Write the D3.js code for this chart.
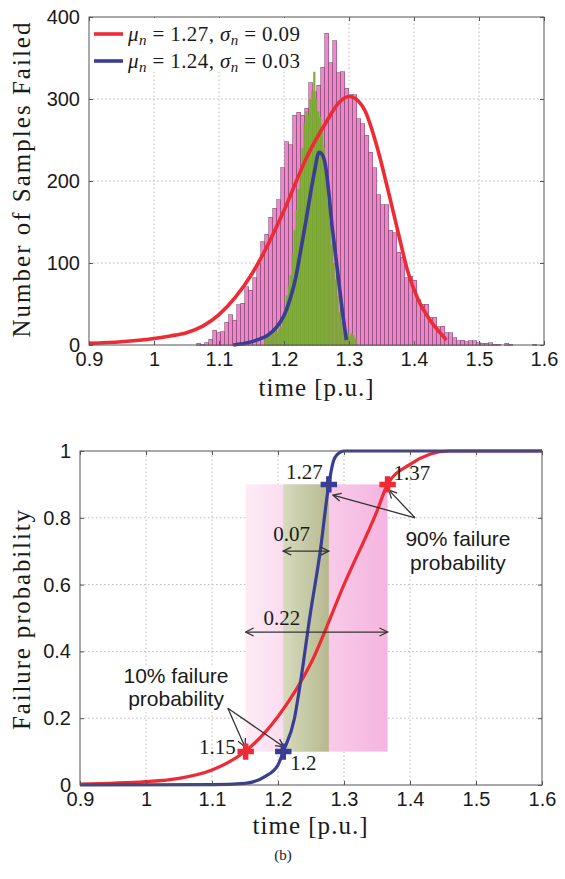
<!DOCTYPE html>
<html>
<head>
<meta charset="utf-8">
<title>Failure time distribution</title>
<style>
  body { margin: 0; background: #fff; }
  svg text { font-family: "Liberation Sans", Arial, sans-serif; fill: #1a1a1a; }
  svg text.serif { font-family: "Liberation Serif", "Times New Roman", serif; }
</style>
</head>
<body>
<script src="https://cdn.jsdelivr.net/npm/d3@7"></script>
<script>
// ---- data ----
var xTicks = [0.9, 1, 1.1, 1.2, 1.3, 1.4, 1.5, 1.6];
var yTicksTop = [0, 100, 200, 300, 400];
var yTicksBottom = [0, 0.2, 0.4, 0.6, 0.8, 1];

// histogram of all samples (pink), bins start at binStart
var binStart = 1.066, binWidth = 0.00615;
var pinkCounts = [2,1,3,7,18,15,16,28,37,30,49,51,71,67,82,100,126,135,156,167,177,
  216,248,244,280,284,280,289,320,309,317,339,380,344,371,332,333,313,305,305,276,270,
  256,235,216,183,171,171,140,137,113,107,82,84,79,55,50,50,33,34,22,23,15,15,9,5,6,4,
  5,5,3,2,2,3,1,1,0,2,1,0,0,0,0,0,1];

// histogram of the narrow case (green)
var greenStart = 1.170, greenWidth = 0.003;
var greenCounts = [8,12,15,14,16,18,15,20,22,30,45,60,72,85,110,140,165,190,215,240,
  270,285,280,300,310,333,300,285,278,260,240,205,175,150,122,100,80,60,40,28,18,14,15,
  12,14,12,8];

// fitted densities [time, count]
var redPdf = [[0.90,2],[0.95,4],[1.00,8],[1.025,11],[1.05,15],[1.075,23],[1.10,37],
  [1.125,58],[1.15,86],[1.175,122],[1.20,164],[1.235,229],[1.265,272],[1.285,296],
  [1.30,303],[1.315,297],[1.325,285],[1.343,242],[1.36,189],[1.376,136],[1.391,88],
  [1.406,56],[1.425,30],[1.44,15],[1.45,6]];
var bluePdf = [[1.122,0],[1.14,2],[1.158,6],[1.175,12],[1.189,22],[1.20,36],[1.209,55],
  [1.218,82],[1.225,112],[1.233,148],[1.24,181],[1.247,212],[1.254,235],[1.259,232],
  [1.264,218],[1.269,185],[1.273,152],[1.279,112],[1.284,79],[1.29,40],[1.296,6]];

// cumulative failure probability [time, probability]
var redCdf = [[0.9,0.003],[1.0,0.01],[1.05,0.02],[1.1,0.045],[1.15,0.1],[1.2,0.205],
  [1.25,0.365],[1.3,0.6],[1.35,0.82],[1.366,0.9],[1.4,0.96],[1.43,0.99],[1.46,1.0],[1.6,1.0]];
var blueCdf = [[0.9,0],[1.1,0.001],[1.15,0.005],[1.18,0.025],[1.2,0.06],[1.208,0.1],
  [1.225,0.2],[1.235,0.32],[1.248,0.5],[1.264,0.7],[1.277,0.9],[1.284,0.97],[1.29,0.99],
  [1.3,1],[1.6,1]];

var legendLabels = [
  {mu: "1.27", sigma: "0.09", color: "#ee2b35"},
  {mu: "1.24", sigma: "0.03", color: "#3a3d96"}
];
var pctMarkers = [
  {t: 1.151, p: 0.1, label: "1.15", color: "#ee2b35"},
  {t: 1.366, p: 0.9, label: "1.37", color: "#ee2b35"},
  {t: 1.208, p: 0.1, label: "1.2",  color: "#3a3d96"},
  {t: 1.277, p: 0.9, label: "1.27", color: "#3a3d96"}
];

var RED = "#ee2b35", BLUE = "#3a3d96";
var W = 565, H = 879;

var svg = d3.select("body").append("svg")
  .attr("width", W).attr("height", H);

var defs = svg.append("defs");
var gp = defs.append("linearGradient").attr("id", "pinkGrad");
gp.append("stop").attr("offset", "0%").attr("stop-color", "#fdebf6");
gp.append("stop").attr("offset", "100%").attr("stop-color", "#f5b4df");
var gg = defs.append("linearGradient").attr("id", "oliveGrad");
gg.append("stop").attr("offset", "0%").attr("stop-color", "#d7dabd");
gg.append("stop").attr("offset", "100%").attr("stop-color", "#b6b98e");
defs.append("marker").attr("id", "head")
  .attr("viewBox", "0 0 10 10").attr("refX", 9).attr("refY", 5)
  .attr("markerWidth", 10).attr("markerHeight", 10)
  .attr("markerUnits", "userSpaceOnUse")
  .attr("orient", "auto-start-reverse")
  .append("path").attr("d", "M1,1 L9,5 L1,9")
  .attr("fill", "none").attr("stroke", "#333").attr("stroke-width", 1.3);

function grid(g, x, y, yTicks) {
  var x0 = x.range()[0], x1 = x.range()[1], y0 = y.range()[0], y1 = y.range()[1];
  g.append("g").selectAll("line").data(xTicks.slice(1, -1)).enter().append("line")
    .attr("x1", x).attr("x2", x).attr("y1", y0).attr("y2", y1)
    .attr("stroke", "#bbb").attr("stroke-dasharray", "1.5,2.5");
  g.append("g").selectAll("line").data(yTicks.slice(1, -1)).enter().append("line")
    .attr("y1", y).attr("y2", y).attr("x1", x0).attr("x2", x1)
    .attr("stroke", "#bbb").attr("stroke-dasharray", "1.5,2.5");
}

function axesBox(g, x, y, yTicks, yFmt) {
  var x0 = x.range()[0], x1 = x.range()[1], y0 = y.range()[0], y1 = y.range()[1];
  g.append("rect").attr("x", x0).attr("y", y1).attr("width", x1 - x0).attr("height", y0 - y1)
    .attr("fill", "none").attr("stroke", "#555").attr("stroke-width", 1);
  g.append("g").attr("transform", "translate(0," + y0 + ")")
    .call(d3.axisBottom(x).tickValues(xTicks).tickSize(-4).tickPadding(7).tickFormat(d3.format("")));
  g.append("g").attr("transform", "translate(" + x0 + ",0)")
    .call(d3.axisLeft(y).tickValues(yTicks).tickSize(-4).tickPadding(9).tickFormat(yFmt));
  g.append("g").attr("transform", "translate(0," + y1 + ")")
    .call(d3.axisTop(x).tickValues(xTicks).tickSize(-4).tickFormat(""));
  g.append("g").attr("transform", "translate(" + x1 + ",0)")
    .call(d3.axisRight(y).tickValues(yTicks).tickSize(-4).tickFormat(""));
  g.selectAll(".domain").remove();
  g.selectAll(".tick line").attr("stroke", "#555");
  g.selectAll(".tick text").attr("font-size", 20).attr("fill", "#1a1a1a")
    .style("font-family", "'Liberation Sans', Arial, sans-serif");
}

// ================= top: histogram =================
var xT = d3.scaleLinear().domain([0.9, 1.6]).range([89, 544]);
var yT = d3.scaleLinear().domain([0, 400]).range([345, 17]);
var topG = svg.append("g");
grid(topG, xT, yT, yTicksTop);

topG.append("g").attr("shape-rendering", "crispEdges")
  .selectAll("rect").data(pinkCounts).enter().append("rect")
  .attr("x", function(d, i) { return xT(binStart + i * binWidth); })
  .attr("width", xT(binStart + binWidth) - xT(binStart))
  .attr("y", function(d) { return yT(d); })
  .attr("height", function(d) { return yT(0) - yT(d); })
  .attr("fill", "#f682cf").attr("stroke", "#7d5470").attr("stroke-width", 0.6);

topG.append("g").selectAll("rect").data(greenCounts).enter().append("rect")
  .attr("x", function(d, i) { return xT(greenStart + i * greenWidth); })
  .attr("width", xT(greenStart + greenWidth) - xT(greenStart))
  .attr("y", function(d) { return yT(d); })
  .attr("height", function(d) { return yT(0) - yT(d); })
  .attr("fill", "#77aa2e").attr("stroke", "#86b43c").attr("stroke-width", 0.3)
  .attr("opacity", 0.95);

var lineTop = d3.line().x(function(d) { return xT(d[0]); }).y(function(d) { return yT(d[1]); })
  .curve(d3.curveMonotoneX);
topG.append("path").datum(redPdf).attr("d", lineTop)
  .attr("fill", "none").attr("stroke", RED).attr("stroke-width", 3.6);
topG.append("path").datum(bluePdf).attr("d", lineTop)
  .attr("fill", "none").attr("stroke", BLUE).attr("stroke-width", 3.6);

axesBox(topG, xT, yT, yTicksTop, d3.format(""));

// legend
var leg = topG.append("g");
leg.append("rect").attr("x", 90).attr("y", 18).attr("width", 211).attr("height", 54)
  .attr("fill", "#fff");
legendLabels.forEach(function(d, i) {
  var yy = 34 + i * 27;
  leg.append("line").attr("x1", 94).attr("x2", 123).attr("y1", yy).attr("y2", yy)
    .attr("stroke", d.color).attr("stroke-width", 3.6);
  var t = leg.append("text").attr("class", "serif").attr("x", 128).attr("y", yy + 7)
    .attr("font-size", 21).attr("textLength", 172).attr("lengthAdjust", "spacing");
  t.append("tspan").attr("font-style", "italic").text("μ");
  t.append("tspan").attr("font-style", "italic").attr("font-size", 15).attr("dy", 4).text("n");
  t.append("tspan").attr("dy", -4).text(" = " + d.mu + ", ");
  t.append("tspan").attr("font-style", "italic").text("σ");
  t.append("tspan").attr("font-style", "italic").attr("font-size", 15).attr("dy", 4).text("n");
  t.append("tspan").attr("dy", -4).text(" = " + d.sigma);
});

topG.append("text").attr("class", "serif").attr("font-size", 25)
  .attr("text-anchor", "middle")
  .attr("transform", "translate(30,180) rotate(-90)")
  .attr("textLength", 315).attr("lengthAdjust", "spacing")
  .text("Number of Samples Failed");
topG.append("text").attr("class", "serif").attr("font-size", 25)
  .attr("text-anchor", "middle").attr("x", 316).attr("y", 396)
  .attr("textLength", 115).attr("lengthAdjust", "spacing")
  .text("time [p.u.]");

// ================= bottom: CDF =================
var xB = d3.scaleLinear().domain([0.9, 1.6]).range([80, 542]);
var yB = d3.scaleLinear().domain([0, 1]).range([785, 451]);
var bot = svg.append("g");
grid(bot, xB, yB, yTicksBottom);

var r10 = pctMarkers[0], r90 = pctMarkers[1], b10 = pctMarkers[2], b90 = pctMarkers[3];
bot.append("rect").attr("x", xB(r10.t)).attr("y", yB(0.9))
  .attr("width", xB(r90.t) - xB(r10.t)).attr("height", yB(0.1) - yB(0.9))
  .attr("fill", "url(#pinkGrad)");
bot.append("rect").attr("x", xB(b10.t)).attr("y", yB(0.9))
  .attr("width", xB(b90.t) - xB(b10.t)).attr("height", yB(0.1) - yB(0.9))
  .attr("fill", "url(#oliveGrad)");

var lineBot = d3.line().x(function(d) { return xB(d[0]); }).y(function(d) { return yB(d[1]); })
  .curve(d3.curveMonotoneX);
bot.append("path").datum(redCdf).attr("d", lineBot)
  .attr("fill", "none").attr("stroke", RED).attr("stroke-width", 3.2);
bot.append("path").datum(blueCdf).attr("d", lineBot)
  .attr("fill", "none").attr("stroke", BLUE).attr("stroke-width", 3.2);

axesBox(bot, xB, yB, yTicksBottom, function(d) { return d === 0 || d === 1 ? d : d3.format(".1f")(d); });

// double arrows for the widths
function dblArrow(t0, t1, p) {
  bot.append("line").attr("x1", xB(t0)).attr("x2", xB(t1)).attr("y1", yB(p)).attr("y2", yB(p))
    .attr("stroke", "#333").attr("stroke-width", 1.3)
    .attr("marker-start", "url(#head)").attr("marker-end", "url(#head)");
}
dblArrow(b10.t, b90.t, 0.70);
dblArrow(r10.t, r90.t, 0.458);
bot.append("text").attr("class", "serif").attr("font-size", 21).attr("text-anchor", "middle")
  .attr("x", xB(1.2205)).attr("y", yB(0.73)).text("0.07");
bot.append("text").attr("class", "serif").attr("font-size", 21).attr("text-anchor", "middle")
  .attr("x", xB(1.206)).attr("y", yB(0.479)).text("0.22");

// callout boxes
function callout(tc, p1, p2, l1, l2) {
  bot.append("rect").attr("x", xB(tc) - 58).attr("y", yB(p1) - 18).attr("width", 116)
    .attr("height", yB(p2) - yB(p1) + 24).attr("fill", "#fff");
  bot.append("text").attr("font-size", 21).attr("text-anchor", "middle")
    .attr("x", xB(tc)).attr("y", yB(p1)).text(l1);
  bot.append("text").attr("font-size", 21).attr("text-anchor", "middle")
    .attr("x", xB(tc)).attr("y", yB(p2)).text(l2);
}
callout(1.4727, 0.716, 0.644, "90% failure", "probability");
callout(1.0455, 0.305, 0.237, "10% failure", "probability");

function arrow(ts, ps, te, pe) {
  bot.append("line").attr("x1", xB(ts)).attr("y1", yB(ps)).attr("x2", xB(te)).attr("y2", yB(pe))
    .attr("stroke", "#333").attr("stroke-width", 1.3).attr("marker-end", "url(#head)");
}
arrow(1.4076, 0.80, 1.2833, 0.868);
arrow(1.4076, 0.80, 1.368, 0.883);
arrow(1.124, 0.23, 1.150, 0.114);
arrow(1.124, 0.23, 1.209, 0.114);

// percentile markers
bot.append("g").selectAll("path").data(pctMarkers).enter().append("path")
  .attr("transform", function(d) { return "translate(" + xB(d.t) + "," + yB(d.p) + ")"; })
  .attr("d", d3.symbol().type(d3.symbolCross).size(150))
  .attr("fill", function(d) { return d.color; });

var lblOff = {"1.15": [-10, 2, "end"], "1.37": [6, -4, "start"], "1.2": [7, 18, "start"], "1.27": [-6, -5, "end"]};
bot.append("g").selectAll("text").data(pctMarkers).enter().append("text")
  .attr("class", "serif").attr("font-size", 21)
  .attr("x", function(d) { return xB(d.t) + lblOff[d.label][0]; })
  .attr("y", function(d) { return yB(d.p) + lblOff[d.label][1]; })
  .attr("text-anchor", function(d) { return lblOff[d.label][2]; })
  .text(function(d) { return d.label; });

bot.append("text").attr("class", "serif").attr("font-size", 25)
  .attr("text-anchor", "middle")
  .attr("transform", "translate(30,620) rotate(-90)")
  .attr("textLength", 220).attr("lengthAdjust", "spacing")
  .text("Failure probability");
bot.append("text").attr("class", "serif").attr("font-size", 25)
  .attr("text-anchor", "middle").attr("x", 310).attr("y", 834)
  .attr("textLength", 115).attr("lengthAdjust", "spacing")
  .text("time [p.u.]");

svg.append("text").attr("class", "serif").attr("font-size", 15)
  .attr("text-anchor", "middle").attr("x", 283).attr("y", 860).text("(b)");
</script>
</body>
</html>
